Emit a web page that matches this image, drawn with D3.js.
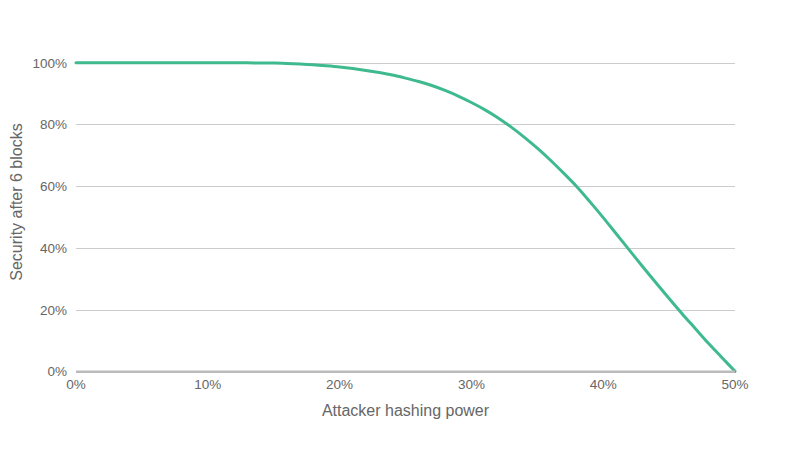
<!DOCTYPE html>
<html>
<head>
<meta charset="utf-8">
<script src="https://cdn.jsdelivr.net/npm/d3@7"></script>
<style>
  html, body { margin: 0; padding: 0; background: #fff; }
  svg { display: block; font-family: "Liberation Sans", Arial, sans-serif; }
</style>
</head>
<body>
<svg id="chart" width="800" height="450"></svg>
<script>
// Attacker hashing power (%)
const attackerPower = [0,1,2,3,4,5,6,7,8,9,10,11,12,13,14,15,16,17,18,19,20,21,22,23,24,25,26,27,28,29,30,31,32,33,34,35,36,37,38,39,40,41,42,43,44,45,46,47,48,49,50];
// Security after 6 blocks (%)
const security = [100,100,100,100,100,100,100,100,100,100,99.99,99.98,99.97,99.95,99.92,99.87,99.78,99.6,99.35,99.0,98.6,98.1,97.5,96.8,96.0,95.0,93.9,92.6,91.0,89.2,87.1,84.8,82.2,79.2,75.9,72.3,68.4,64.2,59.8,54.9,49.8,44.5,39.2,33.9,28.7,23.6,18.6,13.8,9.0,4.5,0];
const xTicks = [0,10,20,30,40,50];
const yTicks = [0,20,40,60,80,100];
const xTitle = "Attacker hashing power";
const yTitle = "Security after 6 blocks";

const svg = d3.select("#chart");
const margin = { left: 76, right: 65, top: 62.7, bottom: 78.7 };
const W = 800, H = 450;

const x = d3.scaleLinear().domain([0, 50]).range([margin.left, W - margin.right]);
const y = d3.scaleLinear().domain([0, 100]).range([H - margin.bottom, margin.top]);

// gridlines
svg.append("g").selectAll("line").data(yTicks.filter(d => d !== 0)).join("line")
  .attr("x1", x(0)).attr("x2", x(50))
  .attr("y1", d => Math.round(y(d)) + 0.5).attr("y2", d => Math.round(y(d)) + 0.5)
  .attr("stroke", "#cccccc").attr("stroke-width", 1);

// y tick labels
svg.append("g").selectAll("text").data(yTicks).join("text")
  .attr("x", 67).attr("y", d => y(d) + 5)
  .attr("text-anchor", "end")
  .attr("font-size", 13.5).attr("fill", "#666")
  .text(d => d + "%");

// x tick labels
svg.append("g").selectAll("text").data(xTicks).join("text")
  .attr("x", d => x(d)).attr("y", 389)
  .attr("text-anchor", "middle")
  .attr("font-size", 13.5).attr("fill", "#666")
  .text(d => d + "%");

// line
const line = d3.line()
  .x((d, i) => x(attackerPower[i]))
  .y(d => y(d))
  .curve(d3.curveMonotoneX);

svg.append("path")
  .datum(security)
  .attr("d", line)
  .attr("fill", "none")
  .attr("stroke", "#3fba8f")
  .attr("stroke-width", 3)
  .attr("stroke-linecap", "round");

// baseline
svg.append("line")
  .attr("x1", x(0)).attr("x2", x(50))
  .attr("y1", y(0) + 0.5).attr("y2", y(0) + 0.5)
  .attr("stroke", "#bbbbbb").attr("stroke-width", 2.5);

// axis titles
svg.append("text")
  .attr("x", (x(0) + x(50)) / 2).attr("y", 415.5)
  .attr("text-anchor", "middle")
  .attr("font-size", 16).attr("fill", "#666")
  .text(xTitle);

svg.append("text")
  .attr("transform", "translate(21.5,202) rotate(-90)")
  .attr("text-anchor", "middle")
  .attr("font-size", 16).attr("fill", "#666")
  .text(yTitle);
</script>
</body>
</html>
